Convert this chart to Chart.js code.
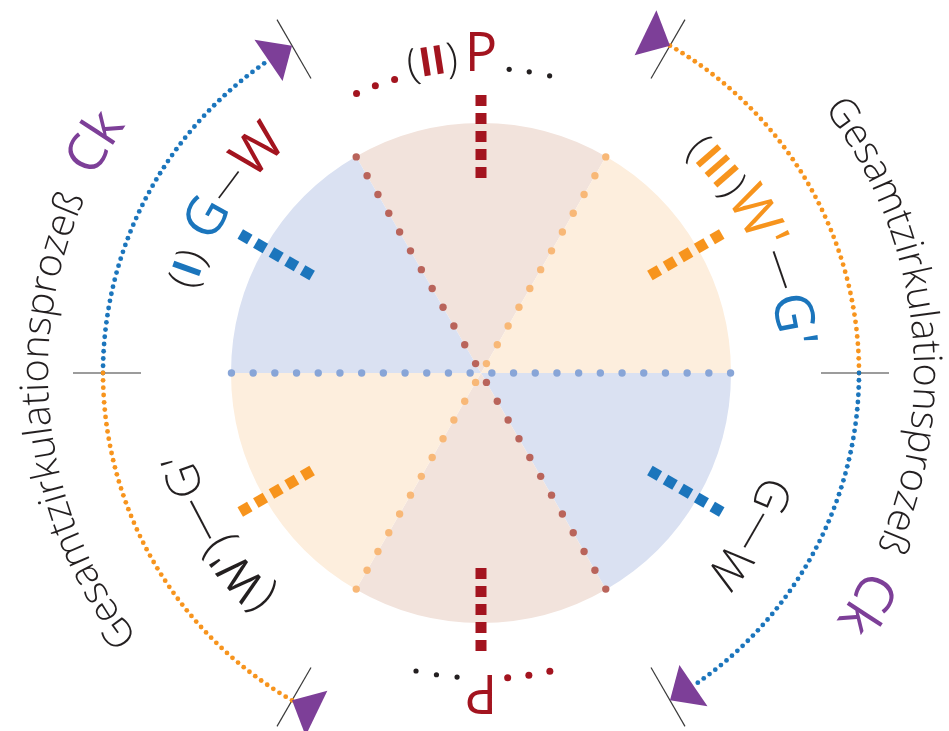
<!DOCTYPE html>
<html>
<head>
<meta charset="utf-8">
<script src="https://cdn.jsdelivr.net/npm/chart.js@4.4.1/dist/chart.umd.min.js"></script>
<style>
html, body { margin: 0; padding: 0; background: #fff; }
</style>
</head>
<body>
<canvas id="cycleCanvas" width="949" height="731"></canvas>
<script>
// sectors of the circulation circle, clockwise from the top
const sectorNames = ['(II) P', "(III) W'—G'", 'G—W', 'P', "(W')—G'", '(I) G—W'];
const sectorShares = [60, 60, 60, 60, 60, 60];
const ringTitle = 'Gesamtzirkulationsprozeß';
const ringSymbol = 'Ck';

const RED = '#a3141f', BLUE = '#1b75bc', ORANGE = '#f7941d', INK = '#231f20', PURPLE = '#7d3f98';
const deg = Math.PI / 180;
const FONT = '"Open Sans", "Noto Sans", sans-serif';

function pt(cx, cy, r, a) {
    return [cx + r * Math.sin(a * deg), cy - r * Math.cos(a * deg)];
}

function dot(ctx, x, y, r, color) {
    ctx.fillStyle = color;
    ctx.beginPath();
    ctx.arc(x, y, r, 0, 2 * Math.PI);
    ctx.fill();
}

// place text pieces along an arc, the anchor piece centred on the given angle
function drawRun(ctx, cx, cy, R, angle, pieces, anchor) {
    let s = 0;
    const mids = [];
    pieces.forEach(p => {
        ctx.font = p.font;
        const w = ctx.measureText(p.text).width;
        s += (p.before || 0);
        mids.push(s + w / 2);
        s += w + (p.after || 0);
    });
    let ref = s / 2;
    if (anchor === 'start') ref = 0;
    else if (anchor >= 0) ref = mids[anchor];
    pieces.forEach((p, i) => {
        const a = angle * deg + (mids[i] - ref) / R;
        ctx.save();
        ctx.translate(cx + R * Math.sin(a), cy - R * Math.cos(a));
        ctx.rotate(a);
        ctx.font = p.font;
        ctx.fillStyle = p.color;
        ctx.textAlign = 'center';
        ctx.textBaseline = 'alphabetic';
        ctx.fillText(p.text, 0, -(p.dy || 0));
        ctx.restore();
    });
}

function drawBoundaryDots(ctx, cx, cy, u) {
    const lines = [[90, '#88a5d7'], [150, '#b9645b'], [30, '#f8b877']];
    lines.forEach(([a, color]) => {
        for (let k = 0; k < 12; k++) {
            const d = (10.85 + k * 21.7) * u;
            const p1 = pt(cx, cy, d, a), p2 = pt(cx, cy, d, a + 180);
            dot(ctx, p1[0], p1[1], 3.7 * u, color);
            dot(ctx, p2[0], p2[1], 3.7 * u, color);
        }
    });
}

function drawSpokes(ctx, cx, cy, u) {
    const colors = [RED, ORANGE, BLUE, RED, ORANGE, BLUE];
    colors.forEach((c, i) => {
        ctx.save();
        ctx.translate(cx, cy);
        ctx.rotate(i * 60 * deg);
        ctx.fillStyle = c;
        for (let k = 0; k < 5; k++) {
            ctx.fillRect(-5.5 * u, -(195 + k * 18 + 11) * u, 11 * u, 11 * u);
        }
        ctx.restore();
    });
}

function drawLabels(ctx, cx, cy, u) {
    const big = '400 54px ' + FONT;
    const thin = '300 42px ' + FONT;
    const paren = '300 50px ' + FONT;
    const bold = '700 40px ' + FONT;
    const dash = '300 42px ' + FONT;
    const shortDash = '300 36px ' + FONT;
    const small = '300 46px ' + FONT;
    const smallReg = '400 46px ' + FONT;

    drawRun(ctx, cx, cy, 302 * u, 0, [
        { text: '(', font: thin, color: INK },
        { text: 'II', font: bold, color: RED },
        { text: ')', font: thin, color: INK, after: 6 },
        { text: 'P', font: big, color: RED }
    ], 3);
    drawRun(ctx, cx, cy, 298 * u, 299.5, [
        { text: '(', font: thin, color: INK },
        { text: 'I', font: bold, color: BLUE },
        { text: ')', font: thin, color: INK, after: 14 },
        { text: 'G', font: big, color: BLUE },
        { text: '—', font: shortDash, color: INK, dy: 7 },
        { text: 'W', font: big, color: RED }
    ], 3);
    drawRun(ctx, cx, cy, 300 * u, 59.5, [
        { text: '(', font: thin, color: INK },
        { text: 'III', font: bold, color: ORANGE },
        { text: ')', font: thin, color: INK },
        { text: 'W', font: big, color: ORANGE },
        { text: "'", font: big, color: ORANGE, after: 2 },
        { text: '—', font: dash, color: INK, dy: 5, after: 2 },
        { text: 'G', font: big, color: BLUE },
        { text: "'", font: big, color: BLUE }
    ], 3);
    drawRun(ctx, cx, cy, 300 * u, 120, [
        { text: 'G', font: small, color: INK },
        { text: '—', font: dash, color: INK, dy: 4 },
        { text: 'W', font: small, color: INK }
    ], 1);
    drawRun(ctx, cx, cy, 300 * u, 242.4, [
        { text: '(', font: paren, color: INK },
        { text: 'W', font: smallReg, color: INK },
        { text: "'", font: smallReg, color: INK },
        { text: ')', font: paren, color: INK },
        { text: '—', font: small, color: INK, dy: 4 },
        { text: 'G', font: small, color: INK },
        { text: "'", font: small, color: INK }
    ], 4);
    drawRun(ctx, cx, cy, 302 * u, 180, [
        { text: 'P', font: big, color: RED }
    ], 0);

    [-24, -20.2, -16.4, 167, 171, 175].forEach(a => {
        const p = pt(cx, cy, 306 * u, a);
        dot(ctx, p[0], p[1], 3.5 * u, RED);
    });
    [5.3, 9.1, 13, 184.5, 188.4, 192.3].forEach(a => {
        const p = pt(cx, cy, 305 * u, a);
        dot(ctx, p[0], p[1], 2.6 * u, INK);
    });
}

function drawRing(ctx, cx, cy, u) {
    const R = 378 * u;
    // ticks
    ctx.strokeStyle = '#3a3a3a';
    ctx.lineWidth = 1.2;
    [270, 330, 30, 90, 150, 210].forEach(a => {
        const p1 = pt(cx, cy, 340 * u, a), p2 = pt(cx, cy, 408 * u, a);
        ctx.beginPath();
        ctx.moveTo(p1[0], p1[1]);
        ctx.lineTo(p2[0], p2[1]);
        ctx.stroke();
    });
    // dotted arcs
    [[270, 325, BLUE], [210, 270, ORANGE], [30, 90, ORANGE], [90, 145, BLUE]].forEach(([a, b, c]) => {
        const n = Math.round((b - a) * deg * R / 7.3);
        for (let i = 0; i <= n; i++) {
            const p = pt(cx, cy, R, a + (b - a) * i / n);
            dot(ctx, p[0], p[1], 2.4 * u, c);
        }
    });
    // arrow heads
    ctx.fillStyle = PURPLE;
    [330, 30, 150, 210].forEach(a => {
        const tip = pt(cx, cy, R, a);
        const b1 = pt(cx, cy, R - 25 * u, a - 4.2), b2 = pt(cx, cy, R + 25 * u, a - 4.2);
        ctx.beginPath();
        ctx.moveTo(tip[0], tip[1]);
        ctx.lineTo(b1[0], b1[1]);
        ctx.lineTo(b2[0], b2[1]);
        ctx.closePath();
        ctx.fill();
    });
    // curved title on both sides
    const tf = '300 39.5px ' + FONT, sf = '400 53px ' + FONT;
    const pieces = ringTitle.split('').map(ch => ({ text: ch, font: tf, color: INK }));
    ringSymbol.split('').forEach((ch, i) => pieces.push({ text: ch, font: sf, color: PURPLE, before: i === 0 ? 22 : 0 }));
    drawRun(ctx, cx, cy, 433 * u, 52.4, pieces, 'start');
    drawRun(ctx, cx, cy, 433 * u, 232.4, pieces, 'start');
}

const ringPlugin = {
    id: 'ringPlugin',
    afterDatasetsDraw(chart) {
        const ctx = chart.ctx;
        const arc = chart.getDatasetMeta(0).data[0];
        const cx = arc.x, cy = arc.y, u = arc.outerRadius / 250;
        ctx.save();
        drawBoundaryDots(ctx, cx, cy, u);
        drawSpokes(ctx, cx, cy, u);
        drawLabels(ctx, cx, cy, u);
        drawRing(ctx, cx, cy, u);
        ctx.restore();
    }
};

function drawCycle() {
    const ctx = document.getElementById('cycleCanvas').getContext('2d');
    new Chart(ctx, {
        type: 'pie',
        data: {
            labels: sectorNames,
            datasets: [{
                data: sectorShares,
                backgroundColor: ['#f2e3dc', '#fdeedd', '#dae1f2', '#f2e3dc', '#fdeedd', '#dae1f2'],
                borderWidth: 0
            }]
        },
        options: {
            responsive: false,
            animation: false,
            rotation: -30,
            layout: { padding: { left: 231, right: 218, top: 123, bottom: 108 } },
            plugins: { legend: { display: false }, tooltip: { enabled: false } }
        },
        plugins: [ringPlugin]
    });
}

drawCycle();
</script>
</body>
</html>
